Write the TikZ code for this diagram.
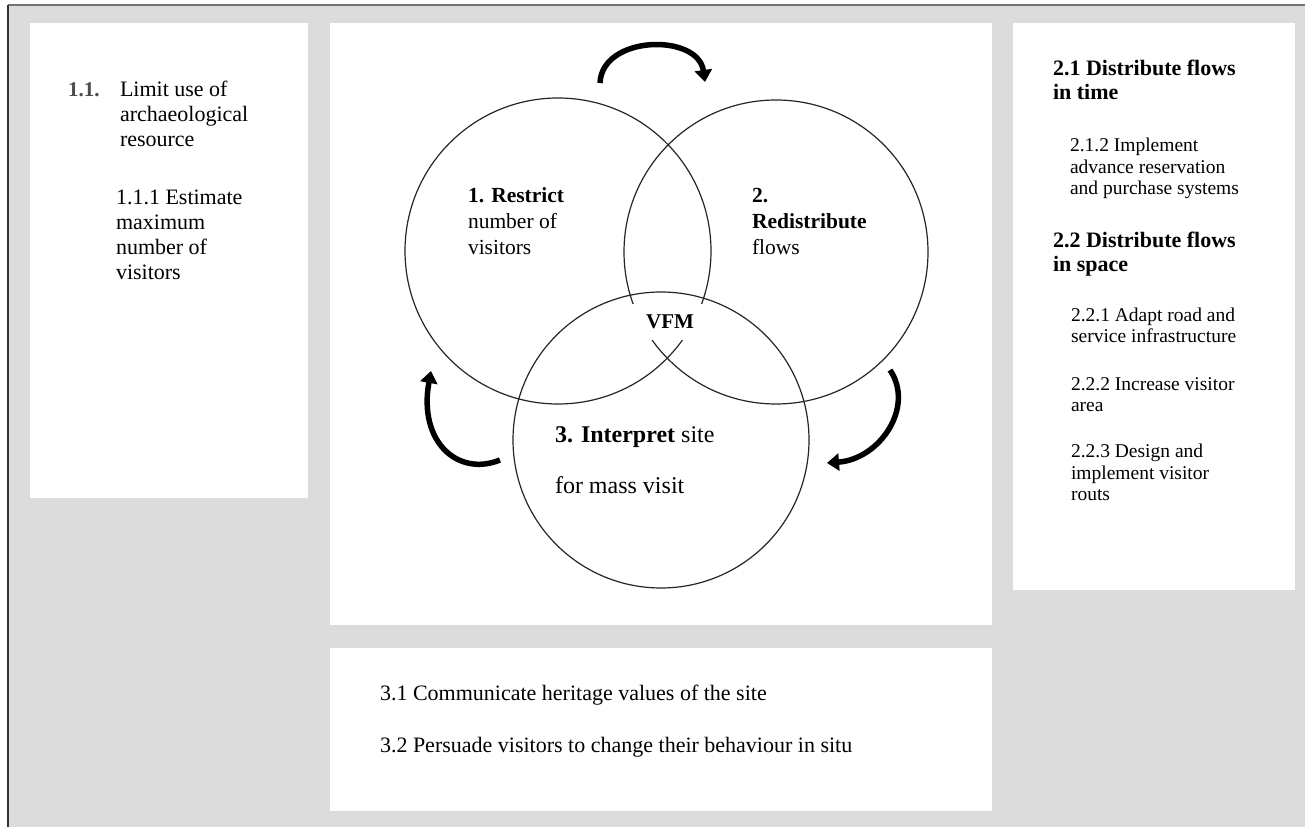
\documentclass[tikz,border=0pt]{standalone}
\usepackage{fontspec}
\setmainfont{Liberation Serif}
\usetikzlibrary{arrows.meta}

\definecolor{pagegray}{HTML}{DCDCDC}

\begin{document}
\begin{tikzpicture}[
        x = 1pt, y = 1pt,
        outer sep = 0mm, inner sep = 0mm,
        panel/.style = {
          rectangle, fill = white, anchor = north west,
        },
        ring/.style = {
          circle, draw = black!85, line width = 1.2pt,
        },
        boxtxt/.style = {
          anchor = base west, align = left,
          font = \fontsize{22}{25}\selectfont,
        },
        ringtxt/.style = {
          anchor = base west, align = left,
          font = \fontsize{21.5}{26}\selectfont,
        },
        subtxt/.style = {
          anchor = base west, align = left,
          font = \fontsize{19.5}{21.5}\selectfont,
        },
        turn/.style = {
          line width = 5.5pt, line cap = butt,
          -{Triangle[length = 12pt, width = 17pt]},
        }
      ]

      \useasboundingbox (0,0) rectangle (1305,827);
      \fill[white] (0,0) rectangle (1305,827);
      \fill[pagegray] (8,0) rectangle (1305,822);
      \draw[line width = 2pt, black!55] (8,822) -- (1305,822);
      \draw[line width = 2pt, black!80] (8,0) -- (8,822);

      % panels
      \node[panel, minimum width = 278pt, minimum height = 475pt] (left) at (30,804) {};
      \node[panel, minimum width = 662pt, minimum height = 602pt] (centre) at (330,804) {};
      \node[panel, minimum width = 662pt, minimum height = 163pt] (bottom) at (330,179) {};
      \node[panel, minimum width = 282pt, minimum height = 567pt] (right) at (1013,804) {};

      % circles
      \node[ring, minimum size = 306pt] (restrict) at (558,576) {};
      \node[ring, minimum size = 304pt] (redist) at (776,575) {};
      \node[ring, minimum size = 296pt] (interp) at (661,387) {};
      \node[fill = white, minimum width = 96pt, minimum height = 36pt,
        font = \fontsize{21}{25}\selectfont\bfseries] (vfm) at (670,505) {VFM};

      \node[ringtxt] (t1) at (468,572) {\textbf{1. Restrict}\\number of\\visitors};
      \node[ringtxt] (t2) at (752,572) {\textbf{2.}\\\textbf{Redistribute}\\flows};
      \node[ringtxt, font = \fontsize{24}{28}\selectfont] (t3) at (555,384) {\textbf{3. Interpret} site};
      \node[ringtxt, font = \fontsize{24}{28}\selectfont] (t3b) at (555,333) {for mass visit};

      % turning arrows
      \coordinate (a1) at (600,744);
      \coordinate (a2) at (705,745);
      \coordinate (b1) at (500,367);
      \coordinate (b2) at (431,456);
      \coordinate (c1) at (890,457);
      \coordinate (c2) at (827,364);
      \draw[turn] (a1) .. controls (602,792) and (698,794) .. (a2);
      \draw[turn] (b1) .. controls (458,350) and (418,385) .. (b2);
      \draw[turn] (c1) .. controls (915,420) and (880,368) .. (c2);

      % left panel
      \node[boxtxt, font = \fontsize{21}{25}\selectfont\bfseries, text = black!70] (n11) at (68,730) {1.1.};
      \node[boxtxt] (l11) at (120,680) {Limit use of\\archaeological\\resource};
      \node[boxtxt] (l111) at (116,547) {1.1.1 Estimate\\maximum\\number of\\visitors};

      % right panel
      \node[boxtxt, font = \fontsize{22}{24}\selectfont\bfseries] (h21) at (1053,727) {2.1 Distribute flows\\in time};
      \node[subtxt] (s212) at (1070,632) {2.1.2 Implement\\advance reservation\\and purchase systems};
      \node[boxtxt, font = \fontsize{22}{24}\selectfont\bfseries] (h22) at (1053,555) {2.2 Distribute flows\\in space};
      \node[subtxt] (s221) at (1071,484) {2.2.1 Adapt road and\\service infrastructure};
      \node[subtxt] (s222) at (1071,415) {2.2.2 Increase visitor\\area};
      \node[subtxt] (s223) at (1071,326) {2.2.3 Design and\\implement visitor\\routs};

      % bottom panel
      \node[boxtxt] (b31) at (380,127) {3.1 Communicate heritage values of the site};
      \node[boxtxt] (b32) at (380,75) {3.2 Persuade visitors to change their behaviour in situ};
    \end{tikzpicture}
\end{document}
